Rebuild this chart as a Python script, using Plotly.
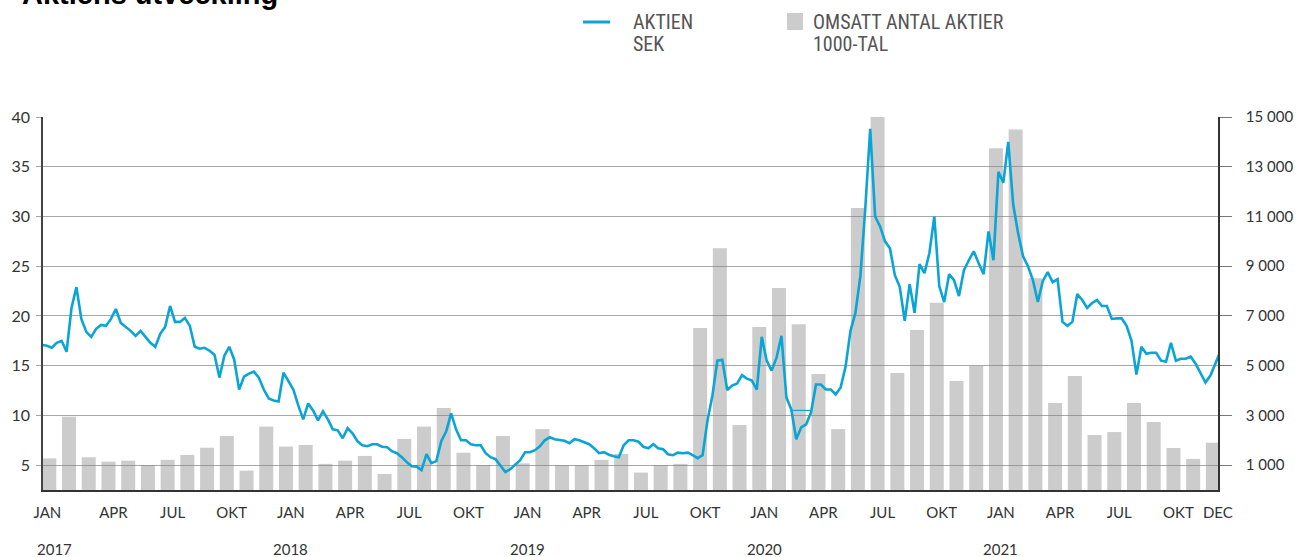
import numpy as np
import plotly.graph_objects as go

# ---- data ----
# share price, SEK: four readings per month
price_2017 = [17.1, 17.0, 16.8, 17.3,  17.5, 16.4, 20.8, 22.9,  19.7, 18.4, 17.9, 18.7,
              19.1, 19.0, 19.7, 20.7,  19.3, 18.9, 18.5, 18.0,  18.5, 17.9, 17.3, 16.9,
              18.2, 18.9, 21.0, 19.4,  19.4, 19.8, 19.0, 16.9,  16.7, 16.8, 16.5, 16.1,
              13.8, 16.0, 16.9, 15.6,  12.6, 13.9, 14.2, 14.4,  13.8, 12.6, 11.7, 11.5]
price_2018 = [11.4, 14.3, 13.4, 12.6,  11.0, 9.6, 11.2, 10.5,  9.5, 10.4, 9.6, 8.6,
              8.5, 7.7, 8.7, 8.2,  7.4, 7.0, 6.9, 7.1,  7.1, 6.85, 6.8, 6.4,
              6.2, 5.8, 5.3, 4.9,  4.85, 4.5, 6.1, 5.2,  5.4, 7.4, 8.4, 10.2,
              8.6, 7.5, 7.5, 7.1,  7.0, 7.0, 6.2, 5.8,  5.6, 5.0, 4.3, 4.6]
price_2019 = [5.1, 5.5, 6.3, 6.3,  6.5, 6.9, 7.5, 7.8,  7.6, 7.5, 7.45, 7.2,
              7.6, 7.5, 7.3, 7.1,  6.7, 6.2, 6.3, 6.05,  5.9, 5.8, 7.0, 7.5,
              7.5, 7.35, 6.85, 6.7,  7.1, 6.7, 6.6, 6.1,  6.0, 6.25, 6.2, 6.25,
              6.0, 5.7, 6.0, 9.5,  12.0, 15.5, 15.6, 12.55,  13.0, 13.2, 14.05, 13.7]
price_2020 = [13.5, 12.6, 17.9, 15.5,  14.5, 15.8, 18.0, 11.8,  10.6, 7.6, 8.8, 9.1,
              10.3, 13.1, 13.1, 12.6,  12.6, 12.1, 12.8, 14.9,  18.5, 20.3, 24.0, 30.8,
              38.8, 30.0, 29.0, 27.5,  26.8, 24.1, 22.9, 19.5,  23.2, 20.3, 25.2, 24.3,
              26.3, 30.0, 23.0, 21.4,  24.2, 23.6, 22.0, 24.6,  25.6, 26.5, 25.3, 24.2]
price_2021 = [28.5, 25.6, 34.5, 33.4,  37.5, 31.2, 28.3, 26.0,  25.0, 23.6, 21.4, 23.5,
              24.4, 23.4, 23.7, 19.4,  19.0, 19.4, 22.2, 21.6,  20.8, 21.3, 21.6, 21.0,
              21.0, 19.7, 19.75, 19.75,  19.0, 17.5, 14.1, 16.9,  16.2, 16.3, 16.3, 15.5,
              15.4, 17.3, 15.5, 15.7,  15.7, 15.9, 15.2, 14.3,  13.3, 14.0, 15.3, 16.4]

# thin flat connector visible in March 2020 (months since Jan 2017, SEK)
gap_months = [38.2, 39.1]
gap_price = [10.5, 10.5]

# traded shares per month, thousands
volume = [1270, 2950, 1315, 1140, 1180, 1000, 1210, 1410, 1700, 2170, 780, 2550,
          1745, 1810, 1050, 1180, 1370, 645, 2050, 2550, 3300, 1500, 1000, 2170,
          1070, 2450, 1000, 1000, 1210, 1450, 700, 1000, 1050, 6510, 9720, 2610,
          6550, 8120, 6670, 4660, 2450, 11340, 15000, 4710, 6430, 7530, 4380, 4990,
          13740, 14500, 8520, 3500, 4580, 2210, 2330, 3500, 2730, 1690, 1250, 1900]

month_labels = ["JAN", "APR", "JUL", "OKT"] * 5 + ["DEC"]
month_label_index = [0, 3, 6, 9, 12, 15, 18, 21, 24, 27, 30, 33, 36, 39, 42, 45, 48, 51, 54, 57, 59]
years = ["2017", "2018", "2019", "2020", "2021"]

left_ticks = [5, 10, 15, 20, 25, 30, 35, 40]
right_ticks = [1000, 3000, 5000, 7000, 9000, 11000, 13000, 15000]

# ---- build ----
price = np.array(price_2017 + price_2018 + price_2019 + price_2020 + price_2021)
t_line = np.arange(len(price)) * 0.25 + 0.125      # months since start of Jan 2017
t_bar = np.arange(len(volume)) + 0.5

BLUE = "#0aa5d5"
GRID = "#a8a8a8"
TXT = "#333333"
NUMFONT = "Lato, DejaVu Sans, sans-serif"

month_tick_pos = [i + 0.75 for i in month_label_index]
month_tick_pos[0] = 0.4

fig = go.Figure()
fig.add_trace(go.Bar(x=t_bar, y=volume, yaxis="y", width=0.71,
                     marker=dict(color="rgba(128,128,128,0.4)", line=dict(width=0)),
                     showlegend=False, hoverinfo="skip"))
fig.add_trace(go.Scatter(x=gap_months, y=gap_price, yaxis="y2", mode="lines",
                         line=dict(color=BLUE, width=1.2), showlegend=False, hoverinfo="skip"))
fig.add_trace(go.Scatter(x=t_line, y=price, yaxis="y2", mode="lines",
                         line=dict(color=BLUE, width=2.6), showlegend=False))

fig.update_layout(
    template="none",
    width=1298, height=557,
    margin=dict(l=43, r=80, t=117, b=67, autoexpand=False),
    paper_bgcolor="white", plot_bgcolor="white",
    xaxis=dict(range=[0.18, 59.76], showgrid=False, zeroline=False, automargin=False,
               showline=True, linecolor="#333333", linewidth=1.5,
               ticks="", tickvals=month_tick_pos,
               ticktext=month_labels, ticklabelstandoff=8,
               tickfont=dict(family=NUMFONT, size=15, color=TXT)),
    yaxis=dict(side="right", range=[0, 15000], tickvals=right_ticks,
               ticktext=[f"{v:,}".replace(",", " ") for v in right_ticks],
               showgrid=True, gridcolor=GRID, gridwidth=1, zeroline=False, automargin=False,
               showline=True, linecolor="#333333", linewidth=1.5,
               ticks="outside", ticklen=12, tickcolor="#777777", tickwidth=1,
               ticklabelstandoff=11,
               tickfont=dict(family=NUMFONT, size=15, color=TXT)),
    yaxis2=dict(side="left", overlaying="y", range=[2.5, 40], tickvals=left_ticks,
                showgrid=False, zeroline=False, automargin=False,
                showline=True, linecolor="#444444", linewidth=1.5,
                ticks="outside", ticklen=5, tickcolor=GRID, tickwidth=1,
                ticklabelstandoff=3,
                tickfont=dict(family=NUMFONT, size=16, color=TXT)),
    showlegend=False,
)

# year labels under the months
for k, y in enumerate(years):
    fig.add_annotation(x=12 * k + 0.75, y=-0.158, xref="x", yref="paper",
                       text=y, showarrow=False, xanchor="center", yanchor="middle",
                       font=dict(family=NUMFONT, size=15, color=TXT))

# title (cut at top edge like the reference)
fig.add_annotation(x=-0.0196, y=1.281, xref="paper", yref="paper", text="<b>Aktiens utveckling</b>",
                   showarrow=False, xanchor="left", yanchor="bottom",
                   font=dict(family="Liberation Sans, Arial, sans-serif", size=29, color="black"))

# custom legend
LEGFONT = dict(family="Liberation Sans Narrow, Roboto Condensed, Roboto, sans-serif", size=20, color="#555555")
fig.add_shape(type="line", xref="paper", yref="paper", x0=0.4596, x1=0.4826, y0=1.2547, y1=1.2547,
              line=dict(color=BLUE, width=3))
fig.add_shape(type="rect", xref="paper", yref="paper", x0=0.6332, x1=0.6468, y0=1.2332, y1=1.2788,
              fillcolor="#cccccc", line=dict(width=0))
for txt, xp, yp in [("AKTIEN", 0.500, 1.2547), ("SEK", 0.500, 1.1957),
                    ("OMSATT ANTAL AKTIER", 0.6536, 1.2547), ("1000-TAL", 0.6536, 1.1957)]:
    fig.add_annotation(x=xp, y=yp, xref="paper", yref="paper", text=txt, showarrow=False,
                       xanchor="left", yanchor="middle", font=LEGFONT)

# remove the page's default 8px body margin so the figure fills the window exactly
fig.write_html("out.html", config={"displayModeBar": False},
               post_script="document.body.style.margin='0px';")
